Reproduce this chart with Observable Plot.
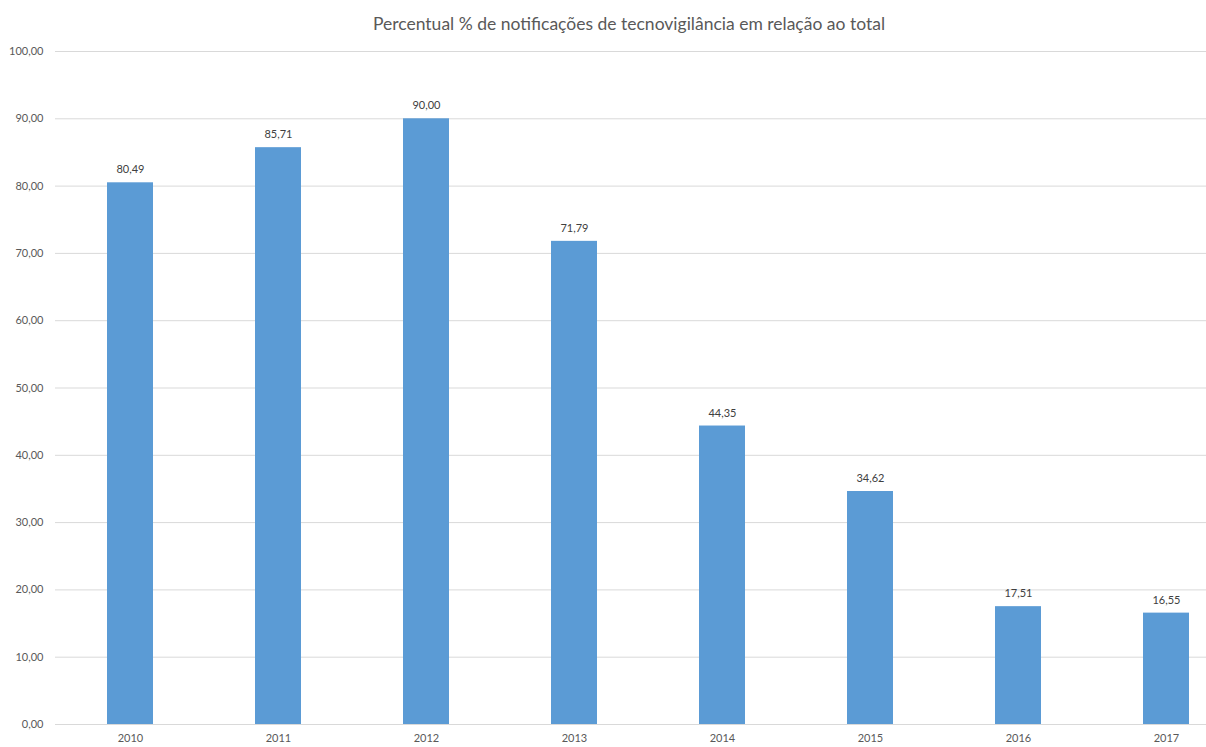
<!DOCTYPE html>
<html>
<head>
<meta charset="utf-8">
<script src="https://cdn.jsdelivr.net/npm/d3@7"></script>
<script src="https://cdn.jsdelivr.net/npm/@observablehq/plot@0.6"></script>
<style>
  html, body { margin: 0; padding: 0; background: #fff; overflow: hidden; }
  #title {
    font-family: Lato, "Open Sans", sans-serif;
    font-size: 17.5px;
    color: #595959;
    height: 40px;
    line-height: 48px;
    width: 1258px;
    text-align: center;
    white-space: nowrap;
  }
</style>
</head>
<body>
<div id="title">Percentual % de notificações de tecnovigilância em relação ao total</div>
<div id="chart"></div>
<script>
// Anos e percentuais de notificações de tecnovigilância
const anos = ["2010", "2011", "2012", "2013", "2014", "2015", "2016", "2017"];
const percentuais = [80.49, 85.71, 90.00, 71.79, 44.35, 34.62, 17.51, 16.55];
const yTicks = [0, 10, 20, 30, 40, 50, 60, 70, 80, 90, 100];

const dados = anos.map((ano, i) => ({ano, valor: percentuais[i]}));
const fmt = v => d3.format(".2f")(v).replace(".", ",");

const chart = Plot.plot({
  width: 1206,
  height: 707,
  marginLeft: 55,
  marginRight: 0,
  marginTop: 11,
  marginBottom: 23,
  style: {fontFamily: "Lato, 'Open Sans', sans-serif", fontSize: "11px", color: "#595959", overflow: "visible"},
  x: {
    type: "band",
    domain: anos,
    range: [53, 1242],
    paddingInner: 0.69,
    paddingOuter: 0.345,
    label: null
  },
  y: {domain: [0, 100], label: null},
  marks: [
    Plot.ruleY(yTicks, {stroke: "#d9d9d9", strokeWidth: 1}),
    Plot.barY(dados, {x: "ano", y: "valor", fill: "#5b9bd5"}),
    Plot.text(dados, {x: "ano", y: "valor", text: d => fmt(d.valor), dy: -13, fill: "#404040", fontSize: 11}),
    Plot.axisY({ticks: yTicks, tickFormat: fmt, tickSize: 0, tickPadding: 12, fill: "#595959", label: null}),
    Plot.axisX({tickSize: 0, tickPadding: 10, fill: "#595959", label: null})
  ]
});
document.getElementById("chart").appendChild(chart);
</script>
</body>
</html>
